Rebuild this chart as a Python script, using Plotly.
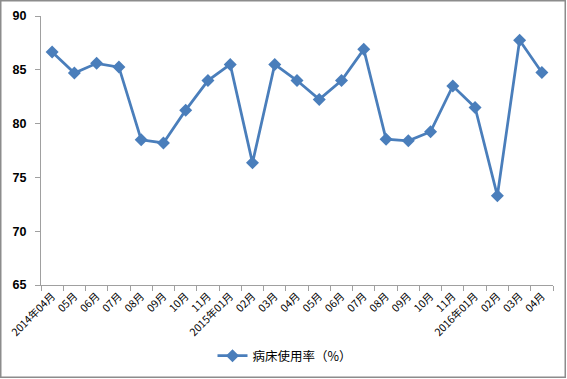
import plotly.graph_objects as go

categories = ["2014年04月", "05月", "06月", "07月", "08月", "09月", "10月", "11月",
              "2015年01月", "02月", "03月", "04月", "05月", "06月", "07月", "08月",
              "09月", "10月", "11月", "2016年01月", "02月", "03月", "04月"]
values = [86.65, 84.7, 85.6, 85.25, 78.5, 78.2, 81.25, 84.0, 85.5, 76.35, 85.5, 84.0,
          82.25, 84.0, 86.9, 78.55, 78.4, 79.25, 83.5, 81.5, 73.3, 87.75, 84.75]
series_name = "病床使用率（%）"
y_ticks = [65, 70, 75, 80, 85, 90]

font_family = "Noto Sans CJK SC, Noto Sans, sans-serif"
blue = "#4A7EBB"

# keep category labels unique for plotly category axis
x_keys = [f"{i}" for i in range(len(categories))]

fig = go.Figure()
fig.add_trace(go.Scatter(
    x=x_keys, y=values, mode="lines+markers", name=series_name,
    line=dict(color=blue, width=2.75),
    marker=dict(symbol="diamond", size=10, color=blue),
))

W, H = 567, 379
ml, mr, mt, mb = 41, 14, 16, 94
pw = W - ml - mr
ph = H - mt - mb

fig.update_layout(
    width=W, height=H,
    margin=dict(l=ml, r=mr, t=mt, b=mb, autoexpand=False),
    paper_bgcolor="white", plot_bgcolor="white",
    font=dict(family=font_family, color="black"),
    showlegend=True,
    legend=dict(orientation="h", x=(285 - ml) / pw, xanchor="center",
                y=(mt + ph - 356) / ph, yanchor="middle",
                font=dict(size=12.5, family=font_family), itemwidth=30),
    shapes=[dict(type="rect", xref="paper", yref="paper",
                 x0=-(ml - 0.75) / pw, x1=1 + (mr - 1.75) / pw,
                 y0=-(mb - 1.75) / ph, y1=1 + (mt - 0.75) / ph,
                 line=dict(color="#8c8c8c", width=1.5), layer="below")],
)
fig.update_xaxes(
    type="category", tickmode="array", tickvals=x_keys, ticktext=categories,
    tickangle=-45, tickfont=dict(size=10.5, family=font_family),
    showline=True, linecolor="#a0a0a0", linewidth=1,
    ticks="outside", tickson="boundaries", ticklen=5, tickcolor="#a0a0a0",
    showgrid=False, zeroline=False, range=[-0.5, len(categories) - 0.5],
    automargin=False,
)
fig.update_yaxes(
    range=[65, 90], tickvals=y_ticks,
    tickfont=dict(size=12.5, family="Liberation Sans", color="black", weight="bold"),
    showline=True, linecolor="#a0a0a0", linewidth=1,
    ticks="outside", ticklen=5, tickcolor="#a0a0a0",
    showgrid=False, zeroline=False, automargin=False, ticklabelstandoff=6,
)
fig.write_html("out.html", post_script="document.body.style.margin='0';",
               config={"displayModeBar": False})
